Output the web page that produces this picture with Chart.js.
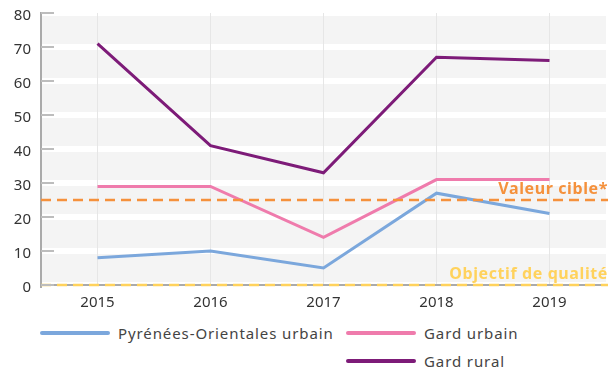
<!DOCTYPE html>
<html>
<head>
<meta charset="utf-8">
<script src="https://cdn.jsdelivr.net/npm/chart.js@4"></script>
<style>
  html, body { margin: 0; padding: 0; background: #fff; }
  #wrap { position: relative; width: 608px; height: 368px; font-family: "Noto Sans", sans-serif; }
  #chart { position: absolute; left: 0; top: 0; }
  #legend { position: absolute; left: 40px; top: 322px; display: grid; grid-template-columns: 306px auto; row-gap: 6px; font-size: 15px; letter-spacing: 0.9px; color: #444; }
  .item { display: flex; align-items: center; height: 22px; }
  .item.right { grid-column: 2; }
  .swatch { width: 70px; height: 4px; border-radius: 2px; margin-right: 8px; }
</style>
</head>
<body>
<div id="wrap">
  <canvas id="chart" width="608" height="320"></canvas>
  <div id="legend"></div>
</div>
<script>
const years = ['2015', '2016', '2017', '2018', '2019'];
const poUrbain = [8, 10, 5, 27, 21];
const gardUrbain = [29, 29, 14, 31, 31];
const gardRural = [71, 41, 33, 67, 66];
const yTicks = [0, 10, 20, 30, 40, 50, 60, 70, 80];

// seuils réglementaires
const valeurCible = 25;
const objectifQualite = 0;

const series = [
    { label: 'Pyrénées-Orientales urbain', data: poUrbain, color: '#7ba7dc' },
    { label: 'Gard urbain', data: gardUrbain, color: '#ef7bac' },
    { label: 'Gard rural', data: gardRural, color: '#7d1b78' },
];

const font = '"Noto Sans", sans-serif';

// fond gris de la zone de tracé
const plotBackground = {
    id: 'plotBackground',
    beforeDraw(chart) {
        const { ctx, chartArea: a } = chart;
        ctx.save();
        ctx.fillStyle = '#f4f4f4';
        ctx.fillRect(a.left, a.top, a.right - a.left, a.bottom - a.top);
        ctx.restore();
    },
};

// petits traits de graduation à l'intérieur de l'axe Y
const innerTicks = {
    id: 'innerTicks',
    afterDraw(chart) {
        const { ctx, chartArea: a, scales } = chart;
        ctx.save();
        ctx.strokeStyle = '#bdbdbd';
        ctx.lineWidth = 2;
        scales.y.ticks.forEach(t => {
            const y = scales.y.getPixelForValue(t.value);
            ctx.beginPath();
            ctx.moveTo(a.left, y);
            ctx.lineTo(a.left + 13, y);
            ctx.stroke();
        });
        ctx.restore();
    },
};

// lignes de seuil en pointillés avec leur libellé
const thresholds = {
    id: 'thresholds',
    afterDatasetsDraw(chart) {
        const { ctx, chartArea: a, scales } = chart;
        const lines = [
            { value: valeurCible, text: 'Valeur cible*', color: '#f5913c' },
            { value: objectifQualite, text: 'Objectif de qualité', color: '#ffd25c' },
        ];
        ctx.save();
        lines.forEach(l => {
            const y = scales.y.getPixelForValue(l.value);
            ctx.strokeStyle = l.color;
            ctx.lineWidth = 2.5;
            ctx.setLineDash([10, 6]);
            ctx.beginPath();
            ctx.moveTo(a.left, y);
            ctx.lineTo(chart.width, y);
            ctx.stroke();
            ctx.fillStyle = l.color;
            ctx.font = 'bold 16px ' + font;
            ctx.letterSpacing = '0.6px';
            ctx.textAlign = 'right';
            ctx.textBaseline = 'alphabetic';
            ctx.fillText(l.text, chart.width, y - 6);
        });
        ctx.restore();
    },
};

const chart = new Chart(document.getElementById('chart'), {
    type: 'line',
    data: {
        labels: years,
        datasets: series.map(s => ({
            label: s.label,
            data: s.data,
            borderColor: s.color,
            backgroundColor: s.color,
            borderWidth: 3,
            pointRadius: 0,
            tension: 0,
            fill: false,
        })),
    },
    options: {
        responsive: false,
        animation: false,
        layout: { padding: { top: 13, right: 2, left: 0, bottom: 0 } },
        plugins: {
            legend: { display: false },
            tooltip: { enabled: false },
        },
        scales: {
            y: {
                min: 0,
                max: 80,
                afterBuildTicks: scale => { scale.ticks = yTicks.map(v => ({ value: v })); },
                afterFit: scale => {
                    scale.width = 41;
                    scale.paddingTop = 0;
                    scale.paddingBottom = 0;
                },
                grid: { color: '#ffffff', lineWidth: 6, drawTicks: false },
                border: { color: '#aaaaaa', width: 2 },
                ticks: { padding: 10, labelOffset: 3, color: '#333', font: { family: font, size: 15 } },
            },
            x: {
                offset: true,
                afterFit: scale => { scale.height = 35; },
                grid: { offset: false, color: '#e6e6e6', lineWidth: 1, drawTicks: false },
                border: { color: '#aaaaaa', width: 2 },
                ticks: { padding: 9, color: '#333', font: { family: font, size: 15 } },
            },
        },
    },
    plugins: [plotBackground, innerTicks, thresholds],
});

// légende sur deux colonnes
const legend = document.getElementById('legend');
series.forEach((s, i) => {
    const item = document.createElement('div');
    item.className = 'item' + (i === 2 ? ' right' : '');
    item.innerHTML = `<span class="swatch" style="background:${s.color}"></span><span>${s.label}</span>`;
    legend.appendChild(item);
});
</script>
</body>
</html>
